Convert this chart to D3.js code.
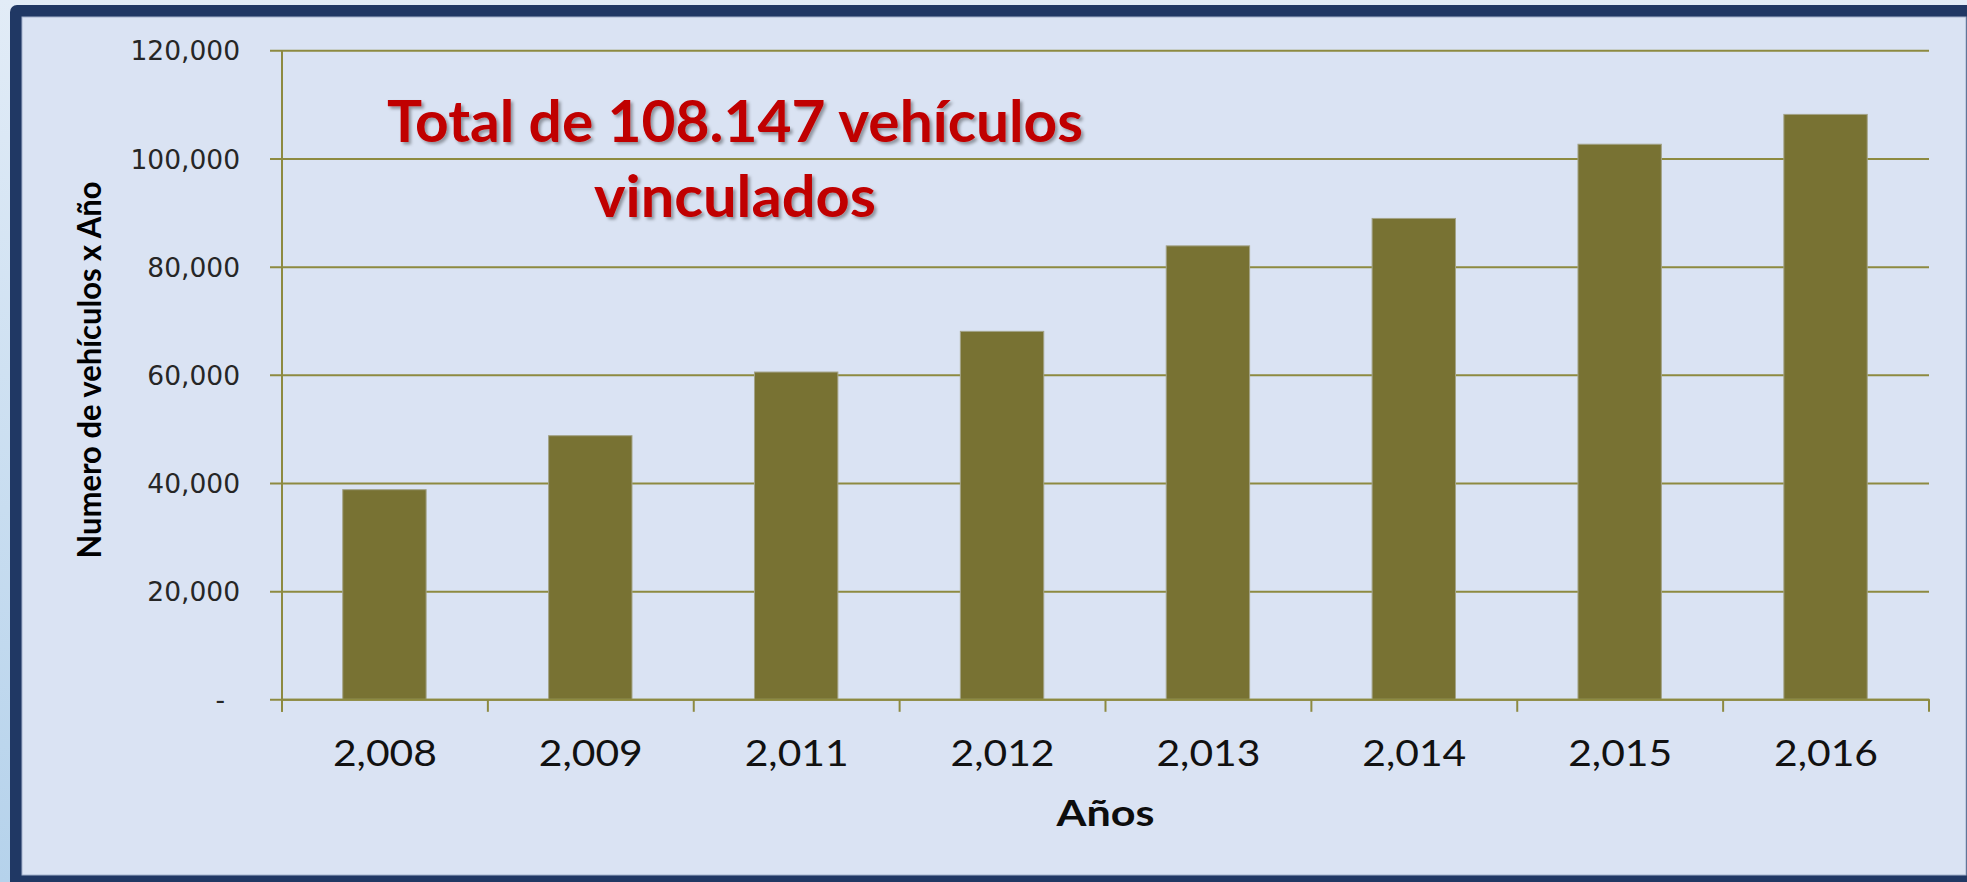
<!DOCTYPE html>
<html>
<head>
<meta charset="utf-8">
<script src="https://cdn.jsdelivr.net/npm/d3@7"></script>
<style>
  html, body { margin: 0; padding: 0; background: #dde8f4; overflow: hidden; }
  svg { display: block; }
</style>
</head>
<body>
<svg id="chart" width="1967" height="882"></svg>
<script>
// ---- data ----
const categories = ["2,008", "2,009", "2,011", "2,012", "2,013", "2,014", "2,015", "2,016"];
const values = [38760, 48740, 60510, 68030, 83840, 88910, 102630, 108147];
const yTicks = [0, 20000, 40000, 60000, 80000, 100000, 120000];
const yTickLabels = ["-", "20,000", "40,000", "60,000", "80,000", "100,000", "120,000"];
const titleLines = ["Total de 108.147 vehículos", "vinculados"];
const yAxisTitle = "Numero de vehículos x Año";
const xAxisTitle = "Años";

// ---- layout ----
const W = 1967, H = 882;
const plotLeft = 282, plotRight = 1929, plotTop = 50.3, plotBottom = 699.3;
const axisColor = "#8d8a40";
const barColor = "#787233";

const svg = d3.select("#chart");

// background
const defs = svg.append("defs");
const bg = defs.append("linearGradient").attr("id", "bgGrad").attr("x1", 0).attr("y1", 0).attr("x2", 0).attr("y2", 1);
bg.append("stop").attr("offset", "0%").attr("stop-color", "#e2ecf7");
bg.append("stop").attr("offset", "100%").attr("stop-color", "#b5d2eb");
const shadow = defs.append("filter").attr("id", "shadow").attr("x", "-10%").attr("y", "-30%").attr("width", "120%").attr("height", "160%");
shadow.append("feDropShadow").attr("dx", 2.5).attr("dy", 2.5).attr("stdDeviation", 1.6)
  .attr("flood-color", "#000").attr("flood-opacity", 0.35);

svg.append("rect").attr("width", W).attr("height", H).attr("fill", "url(#bgGrad)");
svg.append("rect").attr("x", 10).attr("y", 5).attr("width", 1975).attr("height", 900)
  .attr("rx", 7).attr("fill", "#203864");
svg.append("rect").attr("x", 22).attr("y", 17).attr("width", 1944).attr("height", 858)
  .attr("fill", "#dae3f3").attr("stroke", "#a3b2cc").attr("stroke-width", 1);

// ---- scales ----
const x = d3.scaleBand().domain(categories).range([plotLeft, plotRight]).padding(0);
const y = d3.scaleLinear().domain([0, 120000]).range([plotBottom, plotTop]);
const bw = x.bandwidth();

// ---- y axis with gridlines ----
const yAxis = d3.axisLeft(y).tickValues(yTicks).tickFormat((d, i) => yTickLabels[i]).tickSize(0);
const gy = svg.append("g").attr("transform", `translate(${plotLeft},0)`).call(yAxis);
gy.select(".domain").remove();
gy.selectAll(".tick line")
  .attr("x1", -12).attr("x2", plotRight - plotLeft)
  .attr("stroke", axisColor).attr("stroke-width", 2);
gy.selectAll(".tick text")
  .attr("x", d => d === 0 ? -57 : -42)
  .attr("dy", "0.36em")
  .attr("fill", "#262626")
  .style("font-family", "'DejaVu Sans', Verdana, sans-serif")
  .style("font-size", "26.5px");

// ---- bars ----
svg.append("g").selectAll("rect").data(values).join("rect")
  .attr("x", (d, i) => x(categories[i]) + bw * 0.295)
  .attr("width", bw * 0.405)
  .attr("y", d => y(d))
  .attr("height", d => y(0) - y(d))
  .attr("fill", barColor)
  .attr("stroke", "#a3a387").attr("stroke-width", 1);

// ---- x axis ----
const xAxis = d3.axisBottom(x).tickSize(0).tickSizeOuter(0);
const gx = svg.append("g").attr("transform", `translate(0,${plotBottom})`).call(xAxis);
gx.select(".domain").attr("stroke", axisColor).attr("stroke-width", 2);
gx.selectAll(".tick line").remove();
gx.selectAll(".tick text")
  .attr("y", 66.5).attr("dy", 0)
  .attr("fill", "#111")
  .attr("textLength", 104).attr("lengthAdjust", "spacingAndGlyphs")
  .style("font-family", "Lato, 'Open Sans', sans-serif")
  .style("font-size", "36px");

// edge ticks on x axis (band boundaries)
const edges = categories.map(c => x(c)).concat([plotRight]);
svg.append("g").selectAll("line").data(edges).join("line")
  .attr("x1", d => d).attr("x2", d => d)
  .attr("y1", plotBottom).attr("y2", plotBottom + 12.5)
  .attr("stroke", axisColor).attr("stroke-width", 2);

// y axis vertical line
svg.append("line")
  .attr("x1", plotLeft).attr("x2", plotLeft)
  .attr("y1", y(120000)).attr("y2", plotBottom + 12.5)
  .attr("stroke", axisColor).attr("stroke-width", 2);

// ---- axis titles ----
svg.append("text")
  .attr("transform", `translate(100.5,370) rotate(-90)`)
  .attr("text-anchor", "middle")
  .attr("textLength", 377).attr("lengthAdjust", "spacingAndGlyphs")
  .attr("fill", "#000")
  .style("font-family", "Lato, 'Open Sans', sans-serif")
  .style("font-weight", "bold")
  .style("font-size", "32px")
  .text(yAxisTitle);

svg.append("text")
  .attr("x", (plotLeft + plotRight) / 2).attr("y", 825.7)
  .attr("text-anchor", "middle")
  .attr("textLength", 98).attr("lengthAdjust", "spacingAndGlyphs")
  .attr("fill", "#0d0d0d")
  .style("font-family", "Lato, 'Open Sans', sans-serif")
  .style("font-weight", "bold")
  .style("font-size", "36px")
  .text(xAxisTitle);

// ---- annotation title ----
const titleG = svg.append("g").attr("filter", "url(#shadow)");
const titleBaselines = [141.7, 216.7];
const titleWidths = [696, 282];
titleG.selectAll("text").data(titleLines).join("text")
  .attr("x", 735).attr("y", (d, i) => titleBaselines[i])
  .attr("text-anchor", "middle")
  .attr("textLength", (d, i) => titleWidths[i]).attr("lengthAdjust", "spacingAndGlyphs")
  .attr("fill", "#c00000")
  .style("font-family", "Lato, 'Open Sans', sans-serif")
  .style("font-weight", "bold")
  .style("font-size", "58px")
  .text(d => d);
</script>
</body>
</html>
